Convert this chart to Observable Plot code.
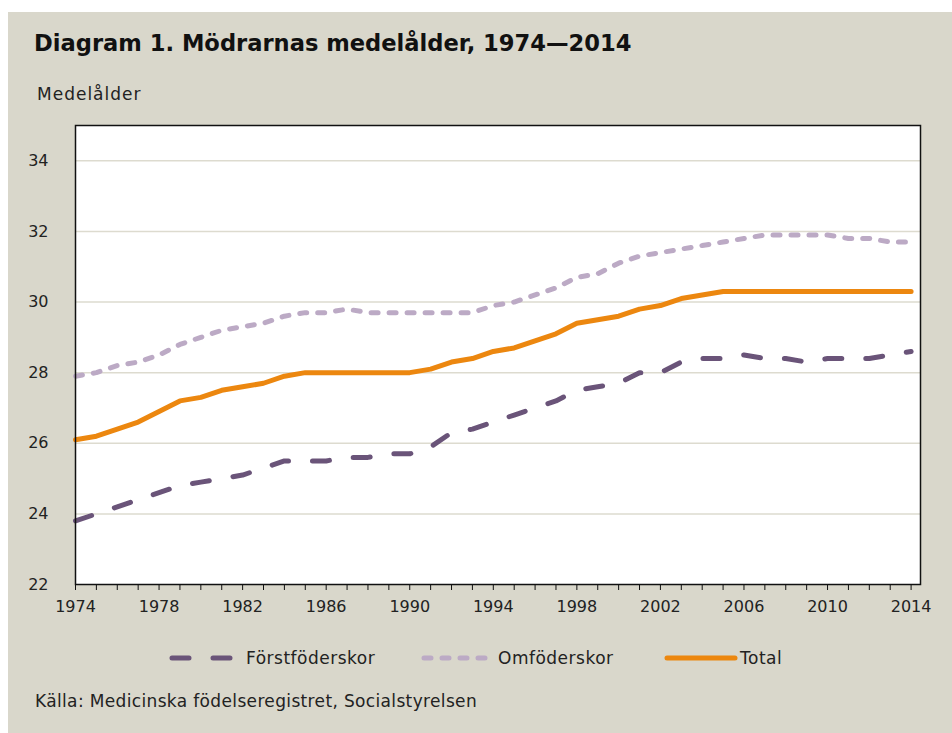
<!DOCTYPE html>
<html>
<head>
<meta charset="utf-8">
<script src="https://cdn.jsdelivr.net/npm/d3@7"></script>
<script src="https://cdn.jsdelivr.net/npm/@observablehq/plot@0.6"></script>
<style>
  html, body { margin: 0; padding: 0; background: #ffffff; }
  body { width: 952px; height: 733px; position: relative; overflow: hidden; font-family: "DejaVu Sans", sans-serif; color: #1a1a1a; }
  #panel { position: absolute; left: 8px; top: 12px; width: 944px; height: 721px; background: #d9d7cb; }
  .abs { position: absolute; white-space: nowrap; line-height: 1; }
  #title { left: 34px; top: 32px; font-size: 22.6px; font-weight: bold; color: #111; }
  #ylab { left: 37px; top: 86px; font-size: 17px; letter-spacing: 1px; color: #222; }
  #chart { position: absolute; left: 0; top: 110px; }
  #legend { left: 0; top: 646px; width: 952px; height: 24px; font-size: 17px; letter-spacing: 0.5px; color: #222; }
  #legend svg { position: absolute; top: 0; }
  #legend span { position: absolute; top: 4px; }
  #caption { left: 35px; top: 693px; font-size: 17px; letter-spacing: 0.35px; color: #222; }
</style>
</head>
<body>
<div id="panel"></div>
<div id="title" class="abs">Diagram 1. Mödrarnas medelålder, 1974—2014</div>
<div id="ylab" class="abs">Medelålder</div>
<div id="chart"></div>
<div id="legend" class="abs"></div>
<div id="caption" class="abs">Källa: Medicinska födelseregistret, Socialstyrelsen</div>
<script>
const years = d3.range(1974, 2015);
const forstfoderskor = [23.8, 24.0, 24.2, 24.4, 24.6, 24.8, 24.9, 25.0, 25.1, 25.3,
  25.5, 25.5, 25.5, 25.6, 25.6, 25.7, 25.7, 25.9, 26.3, 26.4,
  26.6, 26.8, 27.0, 27.2, 27.5, 27.6, 27.7, 28.0, 28.0, 28.3,
  28.4, 28.4, 28.5, 28.4, 28.4, 28.3, 28.4, 28.4, 28.4, 28.5, 28.6];
const omfoderskor = [27.9, 28.0, 28.2, 28.3, 28.5, 28.8, 29.0, 29.2, 29.3, 29.4,
  29.6, 29.7, 29.7, 29.8, 29.7, 29.7, 29.7, 29.7, 29.7, 29.7,
  29.9, 30.0, 30.2, 30.4, 30.7, 30.8, 31.1, 31.3, 31.4, 31.5,
  31.6, 31.7, 31.8, 31.9, 31.9, 31.9, 31.9, 31.8, 31.8, 31.7, 31.7];
const total = [26.1, 26.2, 26.4, 26.6, 26.9, 27.2, 27.3, 27.5, 27.6, 27.7,
  27.9, 28.0, 28.0, 28.0, 28.0, 28.0, 28.0, 28.1, 28.3, 28.4,
  28.6, 28.7, 28.9, 29.1, 29.4, 29.5, 29.6, 29.8, 29.9, 30.1,
  30.2, 30.3, 30.3, 30.3, 30.3, 30.3, 30.3, 30.3, 30.3, 30.3, 30.3];
const seriesNames = ["Förstföderskor", "Omföderskor", "Total"];
const yTicks = [22, 24, 26, 28, 30, 32, 34];
const gridValues = [24, 26, 28, 30, 32, 34];
const xLabelYears = [1974, 1978, 1982, 1986, 1990, 1994, 1998, 2002, 2006, 2010, 2014];

const styles = {
  "Förstföderskor": {stroke: "#6a5479", dash: "17,24"},
  "Omföderskor": {stroke: "#bcaac5", dash: "7,11"},
  "Total": {stroke: "#ec870f", dash: null}
};

const toRows = (vals) => years.map((yr, i) => ({year: yr, value: vals[i]}));

const chart = Plot.plot({
  width: 952,
  height: 520,
  marginLeft: 75,
  marginRight: 32,
  marginTop: 15,
  marginBottom: 46,
  style: {background: "transparent", fontFamily: "DejaVu Sans, sans-serif", fontSize: "16px", color: "#222", overflow: "visible"},
  x: {domain: [1974, 2014.45], label: null},
  y: {domain: [22, 35], label: null},
  marks: [
    Plot.frame({fill: "white", stroke: null}),
    Plot.ruleY(gridValues, {stroke: "#dddbcf", strokeWidth: 1.5}),
    Plot.line(toRows(forstfoderskor), {x: "year", y: "value", stroke: styles["Förstföderskor"].stroke, strokeWidth: 5, strokeDasharray: styles["Förstföderskor"].dash, strokeLinecap: "round", strokeLinejoin: "round"}),
    Plot.line(toRows(omfoderskor), {x: "year", y: "value", stroke: styles["Omföderskor"].stroke, strokeWidth: 5, strokeDasharray: styles["Omföderskor"].dash, strokeLinecap: "round", strokeLinejoin: "round"}),
    Plot.line(toRows(total), {x: "year", y: "value", stroke: styles["Total"].stroke, strokeWidth: 5, strokeLinecap: "round", strokeLinejoin: "round"}),
    Plot.frame({stroke: "#111", strokeWidth: 1.5}),
    Plot.axisY({ticks: yTicks, tickSize: 0, tickPadding: 27, tickFormat: d => String(d), label: null}),
    Plot.axisX({ticks: years, tickSize: 6, tickFormat: () => "", label: null, stroke: "#111"}),
    Plot.axisX({ticks: xLabelYears, tickSize: 0, tickPadding: 16, tickFormat: d => String(d), label: null})
  ]
});
document.getElementById("chart").appendChild(chart);

// Legend
const legend = document.getElementById("legend");
const items = [
  {name: seriesNames[0], x1: 172, x2: 234, tx: 246},
  {name: seriesNames[1], x1: 424, x2: 488, tx: 498},
  {name: seriesNames[2], x1: 667, x2: 735, tx: 740}
];
const ns = "http://www.w3.org/2000/svg";
items.forEach(it => {
  const s = styles[it.name];
  const svg = document.createElementNS(ns, "svg");
  svg.setAttribute("width", it.x2 - it.x1 + 10);
  svg.setAttribute("height", 24);
  svg.style.left = (it.x1 - 5) + "px";
  const ln = document.createElementNS(ns, "line");
  ln.setAttribute("x1", 5);
  ln.setAttribute("x2", it.x2 - it.x1 + 5);
  ln.setAttribute("y1", 12);
  ln.setAttribute("y2", 12);
  ln.setAttribute("stroke", s.stroke);
  ln.setAttribute("stroke-width", 5);
  ln.setAttribute("stroke-linecap", "round");
  if (s.dash) ln.setAttribute("stroke-dasharray", s.dash);
  svg.appendChild(ln);
  legend.appendChild(svg);
  const sp = document.createElement("span");
  sp.textContent = it.name;
  sp.style.left = it.tx + "px";
  legend.appendChild(sp);
});
</script>
</body>
</html>
